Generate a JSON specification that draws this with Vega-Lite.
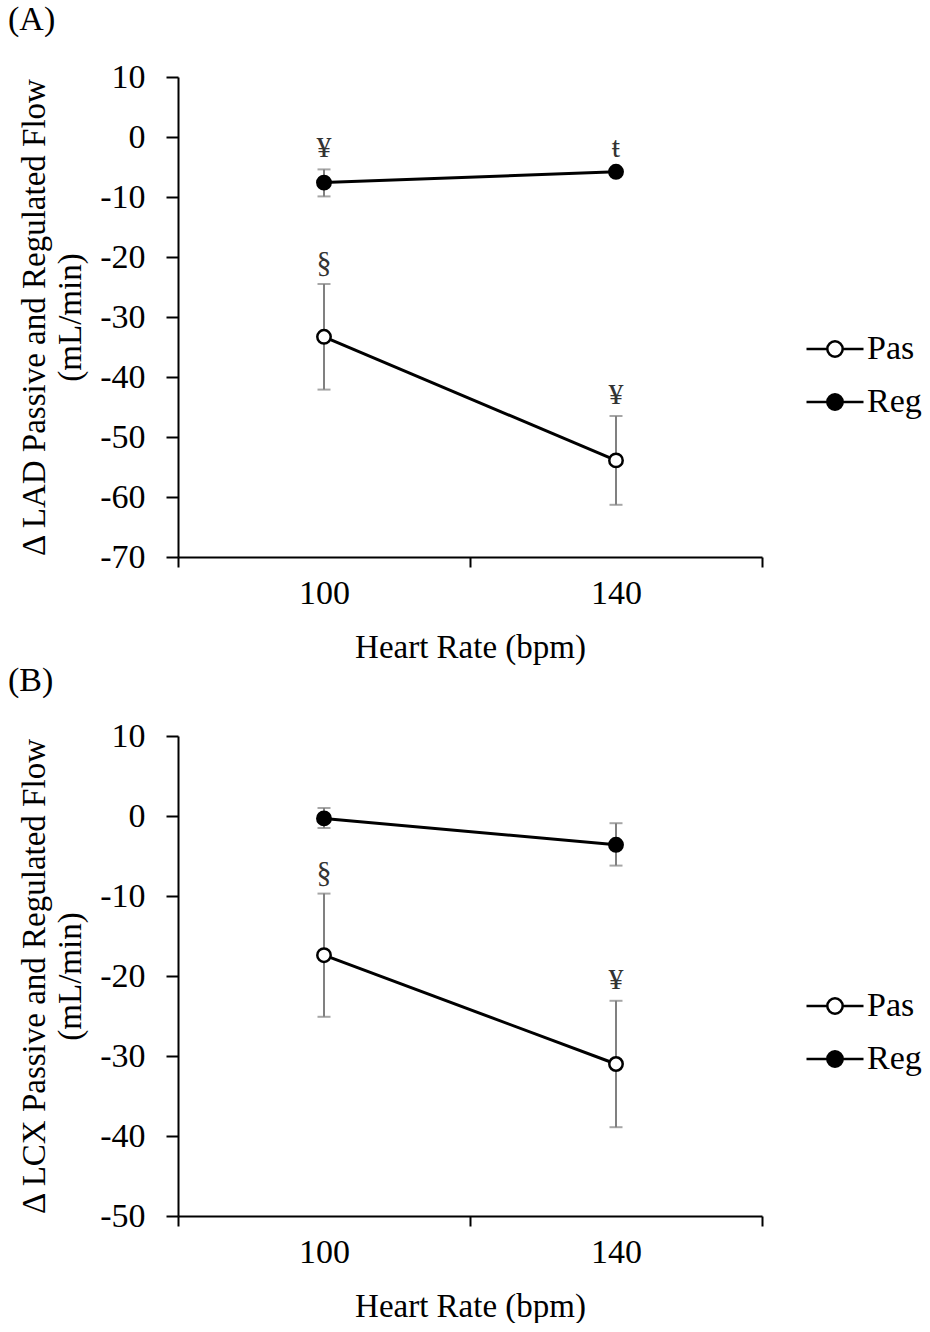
{
  "$schema": "https://vega.github.io/schema/vega-lite/v6.json",
  "padding": {"left": 8, "top": 3, "right": 0, "bottom": 0},
  "background": "white",
  "spacing": 0,
  "config": {
    "font": "Liberation Serif",
    "view": {"stroke": null},
    "axis": {
      "labelFont": "Liberation Serif",
      "titleFont": "Liberation Serif",
      "labelFontSize": 34,
      "titleFontSize": 33,
      "titleFontWeight": "normal",
      "labelColor": "black",
      "titleColor": "black",
      "domainColor": "black",
      "tickColor": "black",
      "domainWidth": 2,
      "tickWidth": 2,
      "grid": false
    },
    "title": {"font": "Liberation Serif", "fontSize": 34, "fontWeight": "normal", "anchor": "start", "frame": "group", "color": "black"}
  },
  "datasets": {
    "lad": [
      {"hr": "100", "group": "Pas", "mean": -33.3, "lo": -42.1, "hi": -24.5, "note": "§"},
      {"hr": "140", "group": "Pas", "mean": -53.9, "lo": -61.3, "hi": -46.5, "note": "¥"},
      {"hr": "100", "group": "Reg", "mean": -7.6, "lo": -9.9, "hi": -5.4, "note": "¥"},
      {"hr": "140", "group": "Reg", "mean": -5.8, "lo": -6.3, "hi": -5.3, "note": "ŧ"}
    ],
    "lcx": [
      {"hr": "100", "group": "Pas", "mean": -17.4, "lo": -25.1, "hi": -9.7, "note": "§"},
      {"hr": "140", "group": "Pas", "mean": -31.0, "lo": -38.9, "hi": -23.1, "note": "¥"},
      {"hr": "100", "group": "Reg", "mean": -0.3, "lo": -1.5, "hi": 1.0, "note": ""},
      {"hr": "140", "group": "Reg", "mean": -3.6, "lo": -6.2, "hi": -0.9, "note": ""}
    ]
  },
  "resolve": {"scale": {"y": "independent", "fill": "independent"}, "legend": {"fill": "independent"}},
  "vconcat": [
    {
      "title": {"text": "(A)", "dx": -170, "offset": 23},
      "width": 584,
      "height": 480,
      "data": {"name": "lad"},
      "encoding": {
        "x": {
          "field": "hr",
          "type": "ordinal",
          "scale": {"type": "band", "paddingInner": 0, "paddingOuter": 0},
          "axis": {"title": "Heart Rate (bpm)", "labelAngle": 0, "tickBand": "extent", "tickSize": 10, "labelPadding": 9, "titlePadding": 21}
        }
      },
      "layer": [
        {
          "mark": {"type": "rule", "color": "#808080", "strokeWidth": 2},
          "encoding": {
            "y": {
              "field": "lo",
              "type": "quantitative",
              "scale": {"domain": [-70, 10], "nice": false},
              "axis": {"title": ["Δ LAD Passive and Regulated Flow", "(mL/min)"], "tickCount": 8, "tickSize": 12, "labelPadding": 21, "titlePadding": 12, "titleLineHeight": 36, "labelExpr": "datum.value < 0 ? '-' + abs(datum.value) : '' + datum.value"}
            },
            "y2": {"field": "hi"}
          }
        },
        {
          "mark": {"type": "tick", "orient": "horizontal", "color": "#808080", "size": 13, "thickness": 2},
          "encoding": {"y": {"field": "lo", "type": "quantitative"}}
        },
        {
          "mark": {"type": "tick", "orient": "horizontal", "color": "#808080", "size": 13, "thickness": 2},
          "encoding": {"y": {"field": "hi", "type": "quantitative"}}
        },
        {
          "mark": {"type": "line", "color": "black", "strokeWidth": 3},
          "encoding": {"y": {"field": "mean", "type": "quantitative"}, "detail": {"field": "group"}}
        },
        {
          "mark": {"type": "point", "shape": "circle", "filled": true, "size": 180, "stroke": "black", "strokeWidth": 2.5, "opacity": 1},
          "encoding": {
            "y": {"field": "mean", "type": "quantitative"},
            "fill": {
              "field": "group",
              "type": "nominal",
              "scale": {"domain": ["Pas", "Reg"], "range": ["white", "black"]},
              "legend": {
                "title": null,
                "orient": "none",
                "legendX": 627,
                "legendY": 242,
                "symbolType": "M-1,0L-0.27,0M0.27,0L1,0M-0.27,0A0.27,0.27,0,1,1,0.27,0A0.27,0.27,0,1,1,-0.27,0Z",
                "symbolSize": 3249,
                "symbolStrokeColor": "black",
                "symbolStrokeWidth": 2.5,
                "labelFont": "Liberation Serif",
                "labelFontSize": 34,
                "labelColor": "black",
                "labelOffset": 2,
                "rowPadding": 6
              }
            }
          }
        },
        {
          "mark": {"type": "text", "dy": -21, "fontSize": 30, "color": "#333333", "baseline": "middle"},
          "encoding": {"y": {"field": "hi", "type": "quantitative"}, "text": {"field": "note"}}
        }
      ]
    },
    {
      "title": {"text": "(B)", "dx": -170, "offset": 21},
      "width": 584,
      "height": 480,
      "data": {"name": "lcx"},
      "encoding": {
        "x": {
          "field": "hr",
          "type": "ordinal",
          "scale": {"type": "band", "paddingInner": 0, "paddingOuter": 0},
          "axis": {"title": "Heart Rate (bpm)", "labelAngle": 0, "tickBand": "extent", "tickSize": 10, "labelPadding": 9, "titlePadding": 21}
        }
      },
      "layer": [
        {
          "mark": {"type": "rule", "color": "#808080", "strokeWidth": 2},
          "encoding": {
            "y": {
              "field": "lo",
              "type": "quantitative",
              "scale": {"domain": [-50, 10], "nice": false},
              "axis": {"title": ["Δ LCX Passive and Regulated Flow", "(mL/min)"], "tickCount": 6, "tickSize": 12, "labelPadding": 21, "titlePadding": 12, "titleLineHeight": 36, "labelExpr": "datum.value < 0 ? '-' + abs(datum.value) : '' + datum.value"}
            },
            "y2": {"field": "hi"}
          }
        },
        {
          "mark": {"type": "tick", "orient": "horizontal", "color": "#808080", "size": 13, "thickness": 2},
          "encoding": {"y": {"field": "lo", "type": "quantitative"}}
        },
        {
          "mark": {"type": "tick", "orient": "horizontal", "color": "#808080", "size": 13, "thickness": 2},
          "encoding": {"y": {"field": "hi", "type": "quantitative"}}
        },
        {
          "mark": {"type": "line", "color": "black", "strokeWidth": 3},
          "encoding": {"y": {"field": "mean", "type": "quantitative"}, "detail": {"field": "group"}}
        },
        {
          "mark": {"type": "point", "shape": "circle", "filled": true, "size": 180, "stroke": "black", "strokeWidth": 2.5, "opacity": 1},
          "encoding": {
            "y": {"field": "mean", "type": "quantitative"},
            "fill": {
              "field": "group",
              "type": "nominal",
              "scale": {"domain": ["Pas", "Reg"], "range": ["white", "black"]},
              "legend": {
                "title": null,
                "orient": "none",
                "legendX": 627,
                "legendY": 240,
                "symbolType": "M-1,0L-0.27,0M0.27,0L1,0M-0.27,0A0.27,0.27,0,1,1,0.27,0A0.27,0.27,0,1,1,-0.27,0Z",
                "symbolSize": 3249,
                "symbolStrokeColor": "black",
                "symbolStrokeWidth": 2.5,
                "labelFont": "Liberation Serif",
                "labelFontSize": 34,
                "labelColor": "black",
                "labelOffset": 2,
                "rowPadding": 6
              }
            }
          }
        },
        {
          "mark": {"type": "text", "dy": -21, "fontSize": 30, "color": "#333333", "baseline": "middle"},
          "encoding": {"y": {"field": "hi", "type": "quantitative"}, "text": {"field": "note"}}
        }
      ]
    }
  ]
}
